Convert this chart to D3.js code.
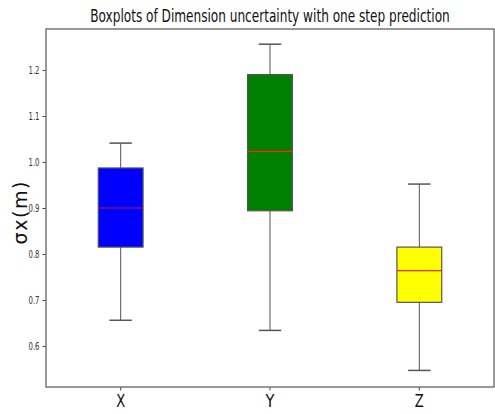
<!DOCTYPE html>
<html>
<head>
<meta charset="utf-8">
<script src="https://cdn.jsdelivr.net/npm/d3@7"></script>
<style>
  body { margin: 0; background: #fff; }
  text { font-family: 'DejaVu Sans Condensed', 'DejaVu Sans', sans-serif; }
</style>
</head>
<body>
<div id="chart"></div>
<script>
const categories = ['X', 'Y', 'Z']
const whiskerLow = [0.656, 0.634, 0.547]
const q1 = [0.815, 0.894, 0.695]
const median = [0.900, 1.023, 0.764]
const q3 = [0.987, 1.190, 0.815]
const whiskerHigh = [1.041, 1.256, 0.952]
const boxColors = ['blue', 'green', 'yellow']
const yTicks = [0.6, 0.7, 0.8, 0.9, 1.0, 1.1, 1.2]

const width = 495
const height = 414
const margin = {
  'top': 29,
  'left': 46,
  'right': 1,
  'bottom': 27
}
const plotW = width - margin.left - margin.right
const plotH = height - margin.top - margin.bottom

let boxes = categories.map((c, i) => {
  return {
    name: c,
    lo: whiskerLow[i],
    q1: q1[i],
    med: median[i],
    q3: q3[i],
    hi: whiskerHigh[i],
    color: boxColors[i]
  }
})

// squeeze a text horizontally to a wanted width (stands in for a condensed font)
let squeeze = function (sel, wanted) {
  sel.each(function () {
    let w = this.getComputedTextLength()
    let t = d3.select(this)
    let old = t.attr('transform') || ''
    if (w > wanted) t.attr('transform', `${old} scale(${wanted / w},1)`)
  })
}

let svg = d3.select('#chart')
  .append('svg')
  .attr('width', width)
  .attr('height', height)

let xScale = d3.scaleBand()
  .domain(categories)
  .range([0, plotW])

let yScale = d3.scaleLinear()
  .domain([0.511, 1.289])
  .range([plotH, 0])

let g = svg.append('g')
  .attr('transform', `translate(${margin.left},${margin.top})`)

// boxes
let boxW = xScale.bandwidth() * 0.3
let capW = boxW / 2
let box = g.selectAll('.box')
  .data(boxes)
  .enter()
  .append('g')
  .classed('box', true)
  .attr('transform', d => `translate(${xScale(d.name) + xScale.bandwidth() / 2},0)`)

box.append('line')
  .attr('x1', 0).attr('x2', 0)
  .attr('y1', d => yScale(d.q3)).attr('y2', d => yScale(d.hi))
  .style('stroke', '#555').style('stroke-width', 1)
box.append('line')
  .attr('x1', 0).attr('x2', 0)
  .attr('y1', d => yScale(d.q1)).attr('y2', d => yScale(d.lo))
  .style('stroke', '#555').style('stroke-width', 1)
box.append('line')
  .attr('x1', -capW / 2).attr('x2', capW / 2)
  .attr('y1', d => yScale(d.hi)).attr('y2', d => yScale(d.hi))
  .style('stroke', '#555').style('stroke-width', 1.5)
box.append('line')
  .attr('x1', -capW / 2).attr('x2', capW / 2)
  .attr('y1', d => yScale(d.lo)).attr('y2', d => yScale(d.lo))
  .style('stroke', '#555').style('stroke-width', 1.5)
box.append('rect')
  .attr('x', -boxW / 2)
  .attr('width', boxW)
  .attr('y', d => yScale(d.q3))
  .attr('height', d => yScale(d.q1) - yScale(d.q3))
  .style('fill', d => d.color)
  .style('stroke', '#555')
  .style('stroke-width', 1.2)
box.append('line')
  .attr('x1', -boxW / 2).attr('x2', boxW / 2)
  .attr('y1', d => yScale(d.med)).attr('y2', d => yScale(d.med))
  .style('stroke', d => d.color === 'blue' ? '#c0103a' : '#ff2020')
  .style('stroke-width', 1.2)

// axes
let yAxis = g.append('g')
  .call(d3.axisLeft(yScale).tickValues(yTicks).tickFormat(d3.format('.1f')).tickSize(3.5).tickPadding(0))
yAxis.select('.domain').remove()
yAxis.selectAll('line').style('stroke', '#444')
yAxis.selectAll('text')
  .attr('x', 0)
  .attr('transform', 'translate(-6.5,0)')
  .style('font-size', '10px')
  .style('fill', '#333')
squeeze(yAxis.selectAll('text'), 11)

let xAxis = g.append('g')
  .attr('transform', `translate(0,${plotH})`)
  .call(d3.axisBottom(xScale).tickSize(3.5).tickPadding(4))
xAxis.select('.domain').remove()
xAxis.selectAll('line').style('stroke', '#444')
xAxis.selectAll('text')
  .style('font-size', '17px')
  .style('fill', '#111')
squeeze(xAxis.selectAll('text'), 9)

// frame
g.append('rect')
  .attr('width', plotW)
  .attr('height', plotH)
  .style('fill', 'none')
  .style('stroke', '#777')
  .style('stroke-width', 1.5)

// titles
let title = svg.append('text')
  .attr('transform', `translate(${margin.left + plotW / 2},22)`)
  .attr('text-anchor', 'middle')
  .style('font-size', '18px')
  .style('fill', '#111')
  .text('Boxplots of Dimension uncertainty with one step prediction')
squeeze(title, 360)

svg.append('text')
  .attr('transform', `translate(27,213) rotate(-90)`)
  .attr('text-anchor', 'middle')
  .attr('textLength', 63)
  .attr('lengthAdjust', 'spacing')
  .style('font-family', 'DejaVu Sans, sans-serif')
  .style('font-size', '19px')
  .style('fill', '#111')
  .text('σx(m)')
</script>
</body>
</html>
